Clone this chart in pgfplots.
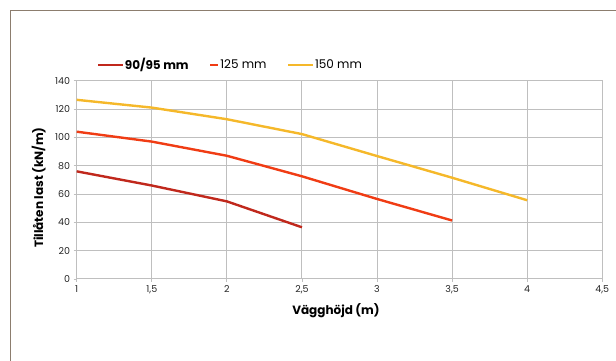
\documentclass[border=0pt]{standalone}
\usepackage{pgfplots}
\pgfplotsset{compat=1.18}
\usepackage{fontspec}
\setmainfont{Poppins}
\definecolor{c1}{RGB}{192,40,28}
\definecolor{c2}{RGB}{240,60,20}
\definecolor{c3}{RGB}{245,184,42}
\definecolor{gridc}{RGB}{191,191,191}
\definecolor{framec}{RGB}{140,125,110}
\begin{document}
\begin{tikzpicture}[x=1pt,y=1pt]
\useasboundingbox (0,0) rectangle (616,361);
\draw[framec,line width=1pt] (10,0) -- (10,350) -- (620,350);
\begin{axis}[
  at={(76.7pt,82pt)}, anchor=south west,
  scale only axis, width=525.6pt, height=198.3pt,
  xmin=1, xmax=4.5, ymin=0, ymax=140,
  xtick={1,1.5,...,4.5}, ytick={0,20,...,140},
  /pgf/number format/assume math mode=true,
  /pgf/number format/use comma,
  /pgf/number format/fixed,
  grid=major,
  grid style={gridc, line width=1pt},
  axis line style={gridc, line width=1pt},
  tick style={gridc, line width=0.8pt},
  tick align=outside, major tick length=3pt,
  xtick pos=bottom, ytick pos=left,
  tick label style={font=\fontsize{9.5}{10}\selectfont, text=black!85},
  yticklabel style={xshift=0pt},
  xlabel={\textbf{Vägghöjd (m)}},
  ylabel={\textbf{Tillåten last (kN/m)}},
  label style={font=\fontsize{12}{13}\selectfont},
  xlabel style={at={(axis description cs:0.4933,-0.161)}, anchor=center},
  ylabel style={at={(axis description cs:-0.0723,0.461)}, anchor=center},
  legend columns=3,
  legend style={at={(0,1)}, anchor=west, xshift=20pt, yshift=15.7pt, draw=none, fill=none,
    font=\fontsize{12}{13}\selectfont, inner sep=0pt,
    nodes={inner sep=0.6pt},
    /tikz/every even column/.append style={column sep=20pt}},
  legend cell align=left,
]
\addplot[c1, line width=2.4pt, legend image code/.code={\draw[c1,line width=2.4pt] (0pt,0pt) -- (25pt,0pt);}]
  coordinates {(1,76) (1.5,66) (2,54.8) (2.5,36.5)};
\addlegendentry{\textbf{90/95 mm}}
\addplot[c2, line width=2.4pt, legend image code/.code={\draw[c2,line width=2.4pt] (0pt,0pt) -- (8pt,0pt);}]
  coordinates {(1,104) (1.5,97) (2,87) (2.5,72.5) (3,56.5) (3.5,41.3)};
\addlegendentry{125 mm}
\addplot[c3, line width=2.4pt, legend image code/.code={\draw[c3,line width=2.4pt] (0pt,0pt) -- (25pt,0pt);}]
  coordinates {(1,126.5) (1.5,121) (2,112.8) (2.5,102.3) (3,86.8) (3.5,71.5) (4,55.6)};
\addlegendentry{150 mm}
\end{axis}
\end{tikzpicture}
\end{document}
